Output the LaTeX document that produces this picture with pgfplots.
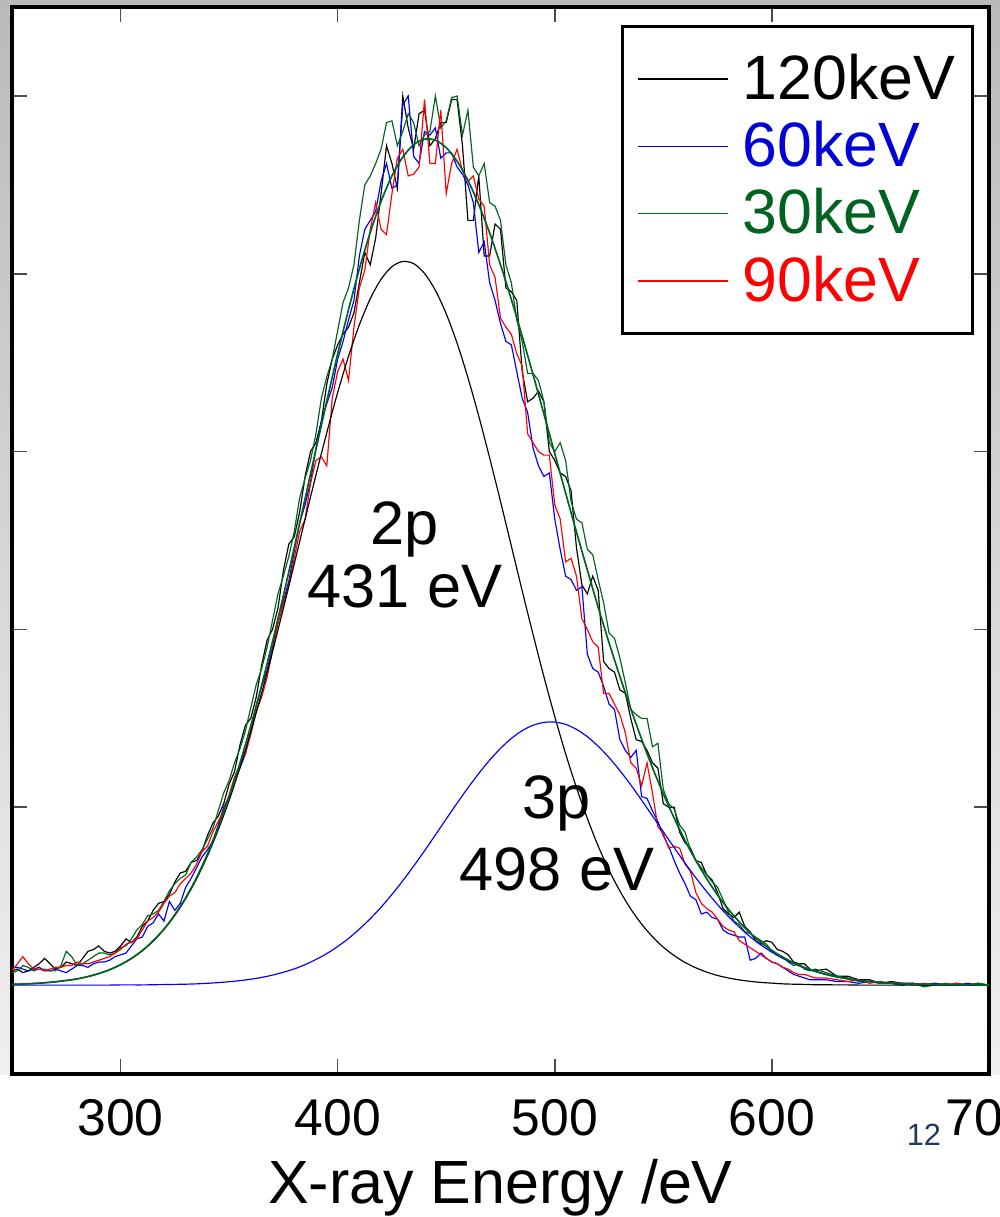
\documentclass[border=0pt]{standalone}
\usepackage{fontspec}
\setmainfont{Liberation Sans}
\usepackage{pgfplots}
\usepackage{pgfplotstable}
\pgfplotsset{compat=1.18}
\definecolor{dgreen}{RGB}{0,100,32}
\definecolor{lblue}{RGB}{0,0,255}
\definecolor{tblue}{RGB}{0,0,215}
\definecolor{lred}{RGB}{255,0,0}
\definecolor{slideblue}{RGB}{31,56,100}

\pgfplotstableread{
x b120 b60 b30 b90
250 0.08 0.10 0.07 0.08
252.5 0.09 0.10 0.08 0.12
255 0.07 0.09 0.11 0.16
257.5 0.08 0.08 0.10 0.12
260 0.10 0.09 0.08 0.09
262.5 0.12 0.10 0.09 0.09
265 0.15 0.08 0.09 0.08
267.5 0.12 0.08 0.08 0.09
270 0.09 0.09 0.08 0.10
272.5 0.10 0.08 0.11 0.10
275 0.13 0.07 0.19 0.11
277.5 0.12 0.09 0.16 0.11
280 0.11 0.11 0.11 0.13
282.5 0.15 0.11 0.12 0.12
285 0.19 0.10 0.14 0.12
287.5 0.20 0.12 0.16 0.13
290 0.22 0.13 0.18 0.14
292.5 0.19 0.13 0.18 0.15
295 0.18 0.14 0.17 0.16
297.5 0.19 0.16 0.18 0.18
300 0.22 0.17 0.21 0.20
302.5 0.26 0.18 0.22 0.23
305 0.24 0.22 0.26 0.24
307.5 0.27 0.26 0.31 0.26
310 0.33 0.27 0.34 0.31
312.5 0.36 0.33 0.39 0.36
315 0.42 0.35 0.40 0.38
317.5 0.46 0.40 0.42 0.41
320 0.47 0.36 0.47 0.46
322.5 0.51 0.47 0.53 0.50
325 0.58 0.42 0.57 0.52
327.5 0.63 0.46 0.60 0.57
330 0.64 0.55 0.62 0.60
332.5 0.69 0.60 0.69 0.63
335 0.70 0.66 0.72 0.68
337.5 0.75 0.72 0.76 0.75
340 0.84 0.76 0.82 0.78
342.5 0.91 0.81 0.88 0.86
345 0.95 0.90 0.98 0.92
347.5 1.02 1.00 1.08 0.98
350 1.13 1.06 1.15 1.07
352.5 1.20 1.15 1.25 1.17
355 1.35 1.22 1.33 1.24
357.5 1.46 1.30 1.43 1.30
360 1.50 1.43 1.56 1.41
362.5 1.62 1.57 1.69 1.54
365 1.80 1.68 1.78 1.62
367.5 1.94 1.77 1.90 1.73
370 2.00 1.90 2.05 1.88
372.5 2.12 2.06 2.20 2.03
375 2.33 2.16 2.30 2.14
377.5 2.48 2.27 2.41 2.25
380 2.52 2.44 2.55 2.40
382.5 2.66 2.60 2.74 2.55
385 2.86 2.70 2.85 2.62
387.5 3.00 2.83 2.95 2.82
390 3.05 3.02 3.10 2.95
392.5 3.17 3.17 3.30 2.97
395 3.38 3.27 3.42 2.92
397.5 3.52 3.36 3.52 3.30
400 3.60 3.52 3.68 3.45
402.5 3.66 3.62 3.84 3.52
405 3.70 3.74 3.92 3.40
407.5 3.78 3.85 4.05 3.70
410 3.95 4.10 4.30 3.92
412.5 4.12 4.25 4.50 4.02
415 4.05 4.30 4.55 4.25
417.5 4.20 4.35 4.62 4.40
420 4.45 4.52 4.70 4.25
422.5 4.72 4.62 4.85 4.22
425 4.62 4.48 4.86 4.45
427.5 4.48 4.50 4.72 4.65
430 5.00 4.95 4.80 4.70
432.5 4.82 5.00 4.90 4.55
435 4.70 4.66 4.85 4.56
437.5 4.90 4.62 4.72 4.60
440 4.92 4.80 4.78 4.98
442.5 4.72 4.78 4.80 4.62
445 4.76 4.82 5.00 4.62
447.5 4.85 4.65 4.82 4.92
450 4.85 4.68 4.86 4.45
452.5 4.98 4.68 4.99 4.62
455 4.98 4.60 5.00 4.70
457.5 4.72 4.56 4.78 4.58
460 4.30 4.50 4.92 4.52
462.5 4.30 4.40 4.60 4.55
465 4.55 4.12 4.55 4.42
467.5 4.10 4.18 4.62 4.38
470 4.10 3.95 4.40 4.05
472.5 4.28 3.85 4.38 3.98
475 4.25 3.72 4.30 3.75
477.5 3.92 3.62 4.05 3.70
480 3.90 3.60 3.95 3.66
482.5 3.85 3.45 3.74 3.55
485 3.45 3.30 3.62 3.48
487.5 3.28 3.22 3.44 3.10
490 3.30 3.02 3.44 3.05
492.5 3.34 2.92 3.40 3.00
495 3.28 2.86 3.28 2.98
497.5 3.00 2.88 3.05 2.98
500 2.95 2.62 3.00 2.70
502.5 2.88 2.45 3.05 2.62
505 2.86 2.30 2.95 2.38
507.5 2.78 2.28 2.72 2.40
510 2.46 2.22 2.62 2.30
512.5 2.25 2.24 2.60 2.06
515 2.20 1.86 2.45 2.00
517.5 2.30 1.78 2.42 1.93
520 2.22 1.76 2.28 1.90
522.5 1.82 1.68 2.15 1.64
525 1.78 1.58 1.98 1.64
527.5 1.76 1.55 1.95 1.58
530 1.66 1.38 1.84 1.52
532.5 1.64 1.32 1.70 1.42
535 1.50 1.28 1.55 1.25
537.5 1.38 1.32 1.52 1.22
540 1.37 1.06 1.50 1.12
542.5 1.32 1.05 1.50 1.25
545 1.25 0.98 1.34 1.08
547.5 1.22 0.92 1.36 0.89
550 1.02 0.84 1.10 0.85
552.5 1.00 0.78 1.02 0.77
555 1.00 0.70 0.99 0.78
557.5 0.86 0.63 0.90 0.77
560 0.80 0.57 0.86 0.68
562.5 0.77 0.50 0.76 0.64
565 0.70 0.48 0.70 0.52
567.5 0.69 0.40 0.66 0.46
570 0.62 0.41 0.62 0.43
572.5 0.59 0.38 0.58 0.41
575 0.52 0.37 0.55 0.37
577.5 0.43 0.31 0.48 0.33
580 0.40 0.29 0.41 0.31
582.5 0.38 0.28 0.36 0.30
585 0.41 0.27 0.34 0.25
587.5 0.33 0.27 0.30 0.23
590 0.30 0.14 0.29 0.21
592.5 0.25 0.15 0.27 0.19
595 0.23 0.18 0.25 0.17
597.5 0.25 0.15 0.23 0.15
600 0.24 0.13 0.19 0.13
602.5 0.20 0.12 0.17 0.12
605 0.19 0.10 0.16 0.10
607.5 0.17 0.08 0.13 0.09
610 0.13 0.06 0.11 0.07
612.5 0.12 0.05 0.12 0.06
615 0.12 0.04 0.09 0.06
617.5 0.09 0.03 0.08 0.05
620 0.08 0.03 0.09 0.04
625 0.09 0.03 0.07 0.04
630 0.05 0.02 0.05 0.03
635 0.05 0.02 0.04 0.02
640 0.03 0.01 0.02 0.03
645 0.03 0.02 0.02 0.01
650 0.01 0.01 0.01 0.02
655 0.02 0.01 0.01 0.01
660 0.01 0.00 0.00 0.01
665 0.01 0.01 0.01 0.00
670 0.00 0.00 -0.01 0.01
675 0.01 0.01 0.00 0.00
680 0.00 0.00 0.01 0.00
685 0.01 0.00 0.00 0.01
690 0.00 0.01 0.00 0.00
695 0.01 0.00 0.01 0.00
700 0.00 0.00 0.00 0.00
}\spectra

\pgfplotstableread{
x p2 p3 sum
250 0.004 0.000 0.004
255 0.006 0.000 0.006
260 0.009 0.000 0.009
265 0.013 0.000 0.013
270 0.018 0.000 0.019
275 0.026 0.000 0.026
280 0.035 0.000 0.035
285 0.048 0.000 0.048
290 0.065 0.000 0.065
295 0.086 0.000 0.087
300 0.114 0.001 0.115
305 0.149 0.001 0.150
310 0.193 0.001 0.194
315 0.247 0.002 0.249
320 0.313 0.003 0.315
325 0.392 0.004 0.396
330 0.486 0.005 0.491
335 0.597 0.007 0.604
340 0.726 0.010 0.736
345 0.873 0.014 0.887
350 1.038 0.019 1.057
355 1.223 0.025 1.248
360 1.425 0.033 1.458
365 1.643 0.043 1.686
370 1.875 0.056 1.931
375 2.118 0.072 2.190
380 2.368 0.091 2.459
385 2.620 0.115 2.735
390 2.868 0.144 3.012
395 3.107 0.177 3.284
400 3.332 0.217 3.549
405 3.536 0.262 3.798
410 3.713 0.315 4.028
415 3.859 0.373 4.232
420 3.969 0.438 4.407
425 4.040 0.510 4.550
430 4.069 0.587 4.656
435 4.057 0.669 4.726
440 4.002 0.755 4.757
445 3.907 0.844 4.751
450 3.775 0.934 4.709
455 3.610 1.023 4.633
460 3.416 1.109 4.525
465 3.199 1.190 4.389
470 2.965 1.265 4.230
475 2.720 1.331 4.051
480 2.469 1.387 3.856
485 2.217 1.431 3.648
490 1.972 1.461 3.433
495 1.734 1.477 3.211
500 1.510 1.479 2.989
505 1.301 1.466 2.767
510 1.110 1.438 2.548
515 0.937 1.397 2.334
520 0.782 1.343 2.125
525 0.646 1.279 1.925
530 0.529 1.206 1.735
535 0.428 1.126 1.554
540 0.343 1.040 1.383
545 0.272 0.951 1.223
550 0.213 0.862 1.075
555 0.166 0.773 0.939
560 0.127 0.686 0.813
565 0.097 0.603 0.700
570 0.073 0.525 0.598
575 0.054 0.452 0.506
580 0.040 0.386 0.426
585 0.029 0.326 0.355
590 0.021 0.272 0.293
595 0.015 0.225 0.240
600 0.011 0.185 0.195
605 0.007 0.150 0.157
610 0.005 0.121 0.126
615 0.004 0.096 0.099
620 0.002 0.076 0.078
625 0.002 0.059 0.060
630 0.001 0.045 0.047
635 0.001 0.035 0.035
640 0.000 0.026 0.027
645 0.000 0.020 0.020
650 0.000 0.015 0.015
655 0.000 0.011 0.011
660 0.000 0.008 0.008
665 0.000 0.006 0.006
670 0.000 0.004 0.004
675 0.000 0.003 0.003
680 0.000 0.002 0.002
685 0.000 0.001 0.001
690 0.000 0.001 0.001
695 0.000 0.001 0.001
700 0.000 0.000 0.000
}\fits

\begin{document}
\begin{tikzpicture}
\fill[top color=black!27, bottom color=black!6] (-3.6pt,0pt) rectangle (296.4pt,322.2pt);
\begin{axis}[
  scale only axis, width=293.1pt, height=320.1pt,
  xmin=250, xmax=700, ymin=-0.5, ymax=5.5,
  axis background/.style={fill=white},
  axis line style={line width=1.2pt},
  xtick={300,400,500,600,700},
  ytick={1,2,3,4,5}, yticklabels={},
  tick align=inside, major tick length=4.5pt,
  every tick/.style={black!70, line width=0.5pt},
  /pgf/number format/assume math mode=true,
  xticklabel style={font=\fontsize{15.5}{18}\selectfont, anchor=base, yshift=-18.3pt},
  xlabel={X-ray Energy /eV},
  xlabel style={at={(axis description cs:0.5,0)}, anchor=base, yshift=-38.7pt, font=\fontsize{18.3}{22}\selectfont},
  legend style={at={(0.985,0.983)}, anchor=north east, draw=black, line width=0.9pt,
    font=\fontsize{18.8}{22}\selectfont, inner xsep=4.2pt, inner ysep=7.1pt,
    nodes={inner xsep=1pt, inner ysep=1pt}, row sep=3.1pt,
    /tikz/every odd column/.append style={column sep=3.4pt}},
  legend cell align=left,
  legend image code/.code={\draw[#1, line width=0.4pt] (0pt,0pt) -- (27pt,0pt);},
]
\addplot[black, line width=0.35pt] table[x=x, y=b120] {\spectra};
\addlegendentry{120keV}
\addplot[lblue, line width=0.35pt] table[x=x, y=b60] {\spectra};
\addlegendentry{\textcolor{tblue}{60keV}}
\addplot[dgreen, line width=0.35pt] table[x=x, y=b30] {\spectra};
\addlegendentry{\textcolor{dgreen}{30keV}}
\addplot[lred, line width=0.35pt] table[x=x, y=b90] {\spectra};
\addlegendentry{\textcolor{lred}{90keV}}
\addplot[black, line width=0.35pt, smooth, forget plot] table[x=x, y=p2] {\fits};
\addplot[lblue, line width=0.35pt, smooth, forget plot] table[x=x, y=p3] {\fits};
\addplot[dgreen, line width=0.5pt, smooth, forget plot] table[x=x, y=sum] {\fits};
\node[anchor=base, font=\fontsize{18.4}{22}\selectfont] at (axis cs:431,2.475) {2p};
\node[anchor=base, font=\fontsize{18.4}{22}\selectfont] at (axis cs:431,2.126) {431 eV};
\node[anchor=base, font=\fontsize{18.4}{22}\selectfont] at (axis cs:501,0.939) {3p};
\node[anchor=base, font=\fontsize{18.4}{22}\selectfont] at (axis cs:501,0.534) {498 eV};
\end{axis}
\node[anchor=base, text=slideblue, font=\fontsize{9.2}{11}\selectfont] at (273.6pt,-21.3pt) {12};
\pgfresetboundingbox
\path[use as bounding box] (-3.6pt,-42.9pt) rectangle (296.4pt,322.2pt);
\end{tikzpicture}
\end{document}
